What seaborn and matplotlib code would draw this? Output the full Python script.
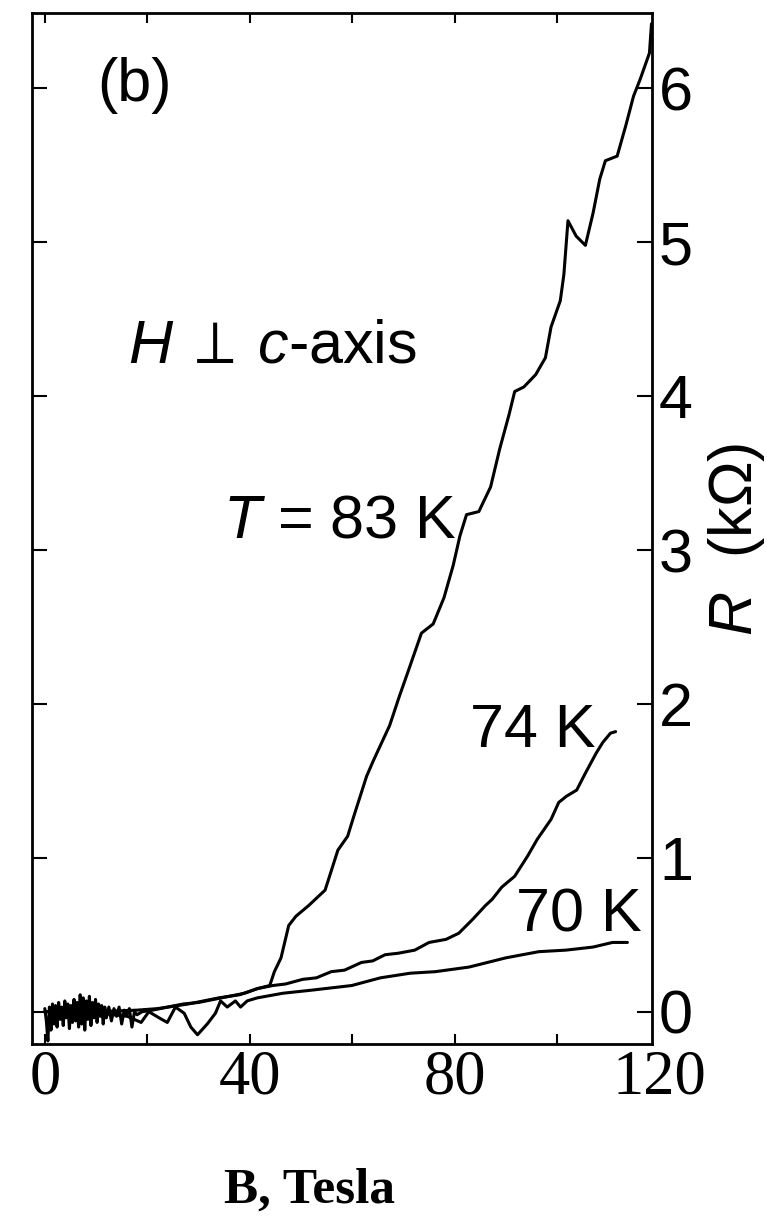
import matplotlib
matplotlib.use("Agg")
import matplotlib.pyplot as plt
import numpy as np
import pandas as pd
import seaborn as sns

# Magnetoresistance R(B) for H perpendicular to the c-axis, three temperatures
b_83 = [0.0, 0.3, 0.6, 0.9, 1.2, 1.5, 1.8, 2.1, 2.4, 2.7, 3.0, 3.3, 3.6, 3.9,
        4.2, 4.5, 4.8, 5.1, 5.4, 5.7, 6.0, 6.3, 6.6, 6.9, 7.2, 7.5, 7.8, 8.1,
        8.4, 8.7, 9.0, 9.3, 9.6, 9.9, 10.2, 10.5, 10.8, 11.1, 11.4, 11.7, 12.0,
        12.5, 13.0, 13.5, 14.0, 14.5, 15.0, 15.5, 16.0, 16.5, 17.0, 17.5, 18.0,
        19.0, 21.0, 24.0, 27.0, 30.0, 33.0, 36.0, 39.0, 41.5, 43.9, 44.8, 46.1,
        47.6, 49.0, 51.5, 54.7, 57.2, 59.1, 60.4, 62.8, 64.1, 67.3, 69.2, 71.1,
        73.5, 75.8, 77.9, 79.7, 81.0, 82.3, 84.7, 87.0, 88.8, 90.6, 91.7, 93.5,
        95.8, 97.7, 98.8, 100.6, 101.3, 102.1, 103.7, 105.5, 107.0, 108.3,
        109.4, 111.7, 113.4, 114.9, 116.2, 118.0, 118.4]
r_83 = [0.02, -0.06, -0.19, 0.03, -0.12, 0.05, -0.08, 0.04, -0.10, 0.06, -0.05,
        0.03, -0.09, 0.07, -0.04, 0.05, -0.11, 0.04, -0.07, 0.08, -0.06, 0.06,
        -0.10, 0.11, -0.08, 0.09, -0.12, 0.07, -0.05, 0.10, -0.09, 0.06, -0.04,
        0.08, -0.07, 0.05, -0.03, 0.04, -0.08, 0.03, -0.04, 0.03, -0.06, 0.02,
        -0.03, 0.03, -0.08, 0.01, -0.02, 0.02, -0.10, 0.00, -0.02,
        0.00, 0.01, 0.03, 0.05, 0.06, 0.08, 0.10, 0.12, 0.15, 0.17, 0.26, 0.35,
        0.56, 0.62, 0.69, 0.79, 1.05, 1.14, 1.28, 1.53, 1.63, 1.86, 2.05, 2.23,
        2.46, 2.52, 2.69, 2.90, 3.09, 3.23, 3.25, 3.41, 3.66, 3.88, 4.03, 4.06,
        4.14, 4.25, 4.45, 4.62, 4.79, 5.14, 5.04, 4.98, 5.19, 5.41,
        5.53, 5.56, 5.76, 5.95, 6.06, 6.23, 6.42]

b_74 = [0.0, 10.0, 18.0, 22.0, 28.0, 34.0, 38.0, 41.5, 44.5, 47.0, 50.3, 53.0,
        55.9, 58.5, 61.8, 64.0, 66.4, 69.0, 72.2, 75.0, 78.3, 80.8, 83.5, 86.0,
        87.3, 89.2, 91.7, 94.2, 96.1, 98.8, 100.3, 101.8, 103.8, 105.5, 107.6,
        108.9, 110.4, 111.4]
r_74 = [0.0, 0.0, 0.01, 0.02, 0.05, 0.09, 0.11, 0.15, 0.17, 0.18, 0.21, 0.22,
        0.26, 0.27, 0.32, 0.33, 0.37, 0.38, 0.40, 0.45, 0.47, 0.51, 0.60, 0.69,
        0.73, 0.81, 0.88, 1.01, 1.12, 1.25, 1.36, 1.40, 1.44, 1.55, 1.68,
        1.75, 1.81, 1.82]

b_70 = [0.0, 8.0, 16.1, 18.8, 20.3, 22.3, 23.9, 25.5, 27.2, 28.5, 29.8, 31.7,
        33.3, 34.3, 35.6, 37.2, 38.2, 39.5, 41.5, 46.5, 52.1, 59.9, 65.5, 71.3,
        76.2, 82.8, 90.0, 96.4, 101.7, 107.0, 110.8, 113.7]
r_70 = [0.0, 0.0, -0.03, -0.07, 0.0, -0.04, -0.07, 0.03, -0.01, -0.10, -0.15,
        -0.08, -0.01, 0.07, 0.03, 0.07, 0.03, 0.07, 0.09, 0.12, 0.14, 0.17,
        0.22, 0.25, 0.26, 0.29, 0.35, 0.39, 0.40, 0.42, 0.45, 0.45]

x_ticks = [0, 20, 40, 60, 80, 100]
x_tick_labels = ["0", "", "40", "", "80", ""]
y_ticks = [0, 1, 2, 3, 4, 5, 6]

df = pd.concat([
    pd.DataFrame({"B": b_83, "R": r_83, "T": "83 K"}),
    pd.DataFrame({"B": b_74, "R": r_74, "T": "74 K"}),
    pd.DataFrame({"B": b_70, "R": r_70, "T": "70 K"}),
], ignore_index=True)

sns.set_theme(style="ticks")
plt.rcParams["font.family"] = ["Liberation Sans", "DejaVu Sans"]
plt.rcParams["mathtext.fontset"] = "custom"
plt.rcParams["mathtext.it"] = "Liberation Sans:italic"
plt.rcParams["mathtext.rm"] = "Liberation Sans"
plt.rcParams["mathtext.fallback"] = "stixsans"
for key in ("text.color", "axes.labelcolor", "xtick.color", "ytick.color",
            "axes.edgecolor"):
    plt.rcParams[key] = "black"

fig = plt.figure(figsize=(7.67, 12.17), dpi=100)
fig.patch.set_facecolor("white")
ax = fig.add_axes([32 / 767, 173 / 1217, 620 / 767, 1031 / 1217])
ax.set_facecolor("white")

sns.lineplot(data=df, x="B", y="R", units="T", estimator=None, sort=False,
             color="black", linewidth=2.2, ax=ax, legend=False)

ax.set_xlim(-2.5, 118.5)
ax.set_ylim(-0.21, 6.49)

for s in ax.spines.values():
    s.set_visible(True)
    s.set_color("black")
    s.set_linewidth(2.0)

ax.set_xticks(x_ticks)
ax.set_xticklabels(x_tick_labels)
ax.set_yticks(y_ticks)
ax.tick_params(axis="x", direction="in", top=True, bottom=True, length=7,
               width=1.5, color="black", labelcolor="black", labelsize=45,
               pad=4, labelfontfamily="Liberation Serif")
ax.tick_params(axis="y", direction="in", left=True, right=True,
               labelleft=False, labelright=True, length=11, width=1.5,
               color="black", labelcolor="black", labelsize=44, pad=5)

# the 120 label sits just past the right frame edge
ax.text(120, 0, "120", transform=ax.get_xaxis_text1_transform(4)[0],
        ha="center", va="top", fontsize=45, family="Liberation Serif",
        color="black", clip_on=False)

ax.set_xlabel("B, Tesla", fontsize=37, fontweight="bold",
              family="Liberation Serif", color="black")
ax.xaxis.set_label_coords(0.447, -0.142)
ax.xaxis.label.set_va("center")

ax.yaxis.set_label_position("right")
ax.set_ylabel("$R$  (kΩ)", fontsize=44, rotation=90, color="black")
ax.yaxis.set_label_coords(1.137, 0.489)
ax.yaxis.label.set_va("center")
ax.yaxis.label.set_ha("center")

ax.text(10.2, 5.92, "(b)", fontsize=44, color="black")
ax.text(16.2, 4.22, r"$H\:{\perp}\:c$-axis", fontsize=44, color="black")
ax.text(34.8, 3.08, "$T$ = 83 K", fontsize=44, color="black")
ax.text(83.0, 1.72, "74 K", fontsize=44, color="black")
ax.text(91.9, 0.52, "70 K", fontsize=44, color="black")

fig.savefig("out.png", dpi=100, facecolor="white")
